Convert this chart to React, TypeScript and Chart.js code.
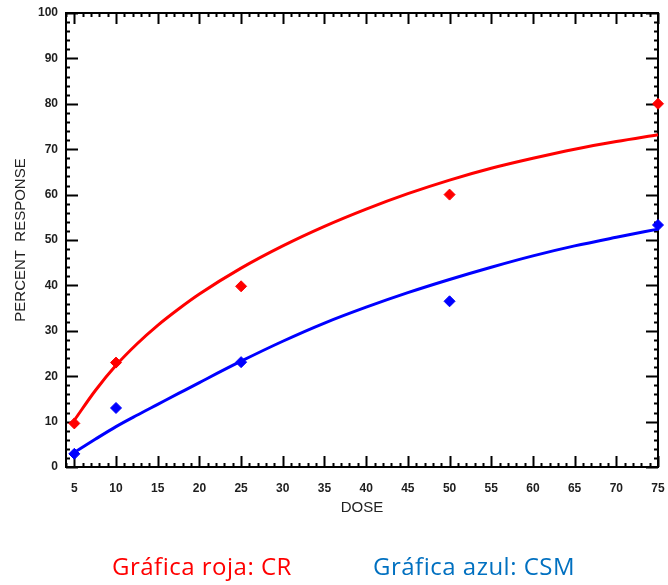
import React, { useEffect, useRef } from "react";
import { Chart, registerables } from "chart.js";

Chart.register(...registerables);

// Observed data points (DOSE, PERCENT RESPONSE)
const doses = [5, 10, 25, 50, 75];
const redPoints = [9.6, 23.0, 39.8, 60.0, 80.0];
const bluePoints = [2.9, 13.0, 23.1, 36.5, 53.3];

// Fitted curves
const curveDoses = [5, 7.5, 10, 12.5, 15, 17.5, 20, 25, 30, 35, 40, 45, 50, 55, 60, 65, 70, 75];
const redCurve = [10.3, 16.8, 22.4, 27.1, 31.2, 34.8, 38.1, 43.8, 48.7, 53.0, 56.8, 60.2, 63.2, 65.8, 68.0, 70.0, 71.7, 73.2];
const blueCurve = [3.2, 6.1, 8.9, 11.4, 13.8, 16.2, 18.6, 23.3, 27.7, 31.7, 35.2, 38.4, 41.3, 44.0, 46.5, 48.7, 50.6, 52.4];

const xMin = 4;
const xMax = 75;
const yMin = 0;
const yMax = 100;

const xTitle = "DOSE";
const yTitle = "PERCENT  RESPONSE";
const redLabel = "Gráfica roja: CR";
const blueLabel = "Gráfica azul: CSM";

const RED = "#ff0000";
const BLUE = "#0000ff";

const framePlugin = {
  id: "frameTicks",
  beforeDatasetsDraw(chart: any) {
    const { ctx, chartArea } = chart;
    const { left, right, top, bottom } = chartArea;
    const xs = chart.scales.x;
    const ys = chart.scales.y;
    ctx.save();
    ctx.strokeStyle = "#000";
    ctx.lineWidth = 2;
    ctx.strokeRect(left, top, right - left, bottom - top);
    const major = 11;
    const minor = 4;
    ctx.beginPath();
    for (let v = Math.ceil(xs.min); v <= xs.max; v += 1) {
      const px = Math.round(xs.getPixelForValue(v)) + 0.5;
      const isMajor = v % 5 === 0;
      const len = isMajor ? major : minor;
      ctx.moveTo(px, bottom);
      ctx.lineTo(px, bottom - len);
      ctx.moveTo(px, top);
      ctx.lineTo(px, top + len);
    }
    for (let v = ys.min; v <= ys.max; v += 2) {
      const py = Math.round(ys.getPixelForValue(v)) + 0.5;
      const isMajor = v % 10 === 0;
      const len = isMajor ? major + 1 : minor;
      ctx.moveTo(left, py);
      ctx.lineTo(left + len, py);
      ctx.moveTo(right, py);
      ctx.lineTo(right - len, py);
    }
    ctx.lineWidth = 2;
    ctx.stroke();
    ctx.restore();
  },
};

export default function App() {
  const canvasRef = useRef<HTMLCanvasElement | null>(null);

  useEffect(() => {
    const canvas = canvasRef.current;
    if (!canvas) return;
    const chart = new Chart(canvas, {
      type: "line",
      data: {
        datasets: [
          {
            label: "CR fit",
            data: curveDoses.map((x, i) => ({ x, y: redCurve[i] })),
            borderColor: RED,
            borderWidth: 3,
            pointRadius: 0,
            cubicInterpolationMode: "monotone",
            fill: false,
          },
          {
            label: "CSM fit",
            data: curveDoses.map((x, i) => ({ x, y: blueCurve[i] })),
            borderColor: BLUE,
            borderWidth: 3,
            pointRadius: 0,
            cubicInterpolationMode: "monotone",
            fill: false,
          },
          {
            label: "CR",
            data: doses.map((x, i) => ({ x, y: redPoints[i] })),
            showLine: false,
            pointStyle: "rectRot",
            pointRadius: 5.5,
            backgroundColor: RED,
            borderColor: RED,
            borderWidth: 1,
          },
          {
            label: "CSM",
            data: doses.map((x, i) => ({ x, y: bluePoints[i] })),
            showLine: false,
            pointStyle: "rectRot",
            pointRadius: 5.5,
            backgroundColor: BLUE,
            borderColor: BLUE,
            borderWidth: 1,
          },
        ],
      },
      options: {
        responsive: false,
        animation: false,
        devicePixelRatio: 1,
        clip: false,
        layout: { padding: { top: 13, right: 10, bottom: 0, left: 0 } },
        plugins: {
          legend: { display: false },
          tooltip: { enabled: false },
        },
        scales: {
          x: {
            type: "linear",
            min: xMin,
            max: xMax,
            grid: { display: false, drawTicks: false },
            border: { display: false },
            ticks: {
              stepSize: 5,
              includeBounds: false,
              padding: 14,
              maxRotation: 0,
              autoSkip: false,
              color: "#1e1e1e",
              font: { family: "'Liberation Sans', Arial, sans-serif", size: 12, weight: "bold" },
            },
            title: {
              display: true,
              text: xTitle,
              color: "#222",
              padding: { top: 0, bottom: 68 },
              font: { family: "'Liberation Sans', Arial, sans-serif", size: 15 },
            },
            afterFit(scale: any) {
              scale.height = 118;
              scale.paddingLeft = 0;
              scale.paddingRight = 0;
            },
          },
          y: {
            type: "linear",
            min: yMin,
            max: yMax,
            grid: { display: false, drawTicks: false },
            border: { display: false },
            ticks: {
              stepSize: 10,
              padding: 8,
              color: "#1e1e1e",
              font: { family: "'Liberation Sans', Arial, sans-serif", size: 12, weight: "bold" },
            },
            title: {
              display: true,
              text: yTitle,
              color: "#222",
              padding: { top: 12, bottom: 0 },
              font: { family: "'Liberation Sans', Arial, sans-serif", size: 15 },
            },
            afterFit(scale: any) {
              scale.width = 66;
              scale.paddingTop = 0;
              scale.paddingBottom = 0;
            },
          },
        },
      },
      plugins: [framePlugin],
    } as any);
    return () => chart.destroy();
  }, []);

  const legendFont: React.CSSProperties = {
    position: "absolute",
    top: 554,
    fontFamily: "'Open Sans', 'Noto Sans', sans-serif",
    fontSize: 24,
    lineHeight: "24px",
    letterSpacing: "0.5px",
    whiteSpace: "nowrap",
  };

  return (
    <div style={{ position: "absolute", left: 0, top: 0, width: 668, height: 585, background: "#fff", overflow: "hidden" }}>
      <canvas ref={canvasRef} width={668} height={585} style={{ display: "block" }} />
      <div style={{ ...legendFont, left: 112, color: "#ff0000" }}>{redLabel}</div>
      <div style={{ ...legendFont, left: 373, color: "#0070c0" }}>{blueLabel}</div>
    </div>
  );
}
